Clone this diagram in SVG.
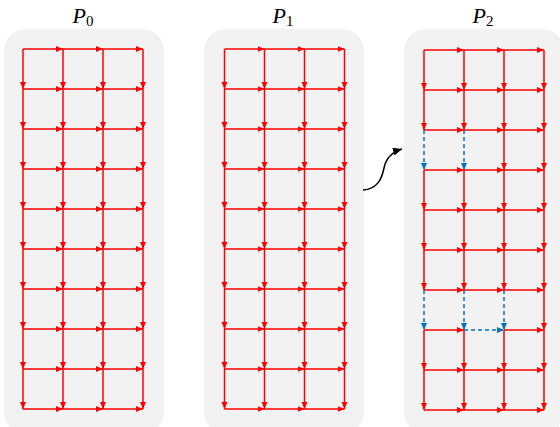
<svg xmlns="http://www.w3.org/2000/svg" width="560" height="427" viewBox="0 0 560 427">
<defs>
<style>
.panel{fill:#f2f2f2;stroke:none}
.r{fill:none;stroke:#ff0000;stroke-width:1.5;marker-mid:url(#ar);marker-end:url(#ar)}
.b{fill:none;stroke:#0070c0;stroke-width:1.5;stroke-dasharray:4 3;marker-end:url(#ab)}
.lbl{font-family:"Liberation Serif","DejaVu Serif",serif;font-size:22px;fill:#000}
.sub{font-size:15px;font-style:normal}
</style>
<marker id="ar" markerUnits="userSpaceOnUse" markerWidth="8" markerHeight="8" refX="7" refY="3" orient="auto"><path d="M0,0 L7,3 L0,6 z" fill="#ff0000"/></marker>
<marker id="ab" markerUnits="userSpaceOnUse" markerWidth="8" markerHeight="8" refX="7" refY="3" orient="auto"><path d="M0,0 L7,3 L0,6 z" fill="#0070c0"/></marker>
<marker id="ak" markerUnits="userSpaceOnUse" markerWidth="10" markerHeight="10" refX="9" refY="4" orient="auto"><path d="M0,0 L9,4 L0,8 z" fill="#000"/></marker>
</defs>

<g id="panel-P0">
<rect class="panel" x="4" y="29" width="160" height="405" rx="22"/>
<text class="lbl" x="83" y="23" text-anchor="middle"><tspan font-style="italic">P</tspan><tspan class="sub" dy="3">0</tspan></text>
</g>
<g id="panel-P1">
<rect class="panel" x="204" y="29" width="160" height="405" rx="22"/>
<text class="lbl" x="283" y="23" text-anchor="middle"><tspan font-style="italic">P</tspan><tspan class="sub" dy="3">1</tspan></text>
</g>
<g id="panel-P2">
<rect class="panel" x="404" y="29" width="160" height="405" rx="22"/>
<text class="lbl" x="483" y="23" text-anchor="middle"><tspan font-style="italic">P</tspan><tspan class="sub" dy="3">2</tspan></text>
</g>

<g id="connectors">
<g id="P0-edges">
<polyline class="r" points="23,49 63,49 103,49 143,49"/>
<polyline class="r" points="23,89 63,89 103,89 143,89"/>
<polyline class="r" points="23,129 63,129 103,129 143,129"/>
<polyline class="r" points="23,169 63,169 103,169 143,169"/>
<polyline class="r" points="23,209 63,209 103,209 143,209"/>
<polyline class="r" points="23,249 63,249 103,249 143,249"/>
<polyline class="r" points="23,289 63,289 103,289 143,289"/>
<polyline class="r" points="23,329 63,329 103,329 143,329"/>
<polyline class="r" points="23,369 63,369 103,369 143,369"/>
<polyline class="r" points="23,409 63,409 103,409 143,409"/>
<polyline class="r" points="23,49 23,89 23,129 23,169 23,209 23,249 23,289 23,329 23,369 23,409"/>
<polyline class="r" points="63,49 63,89 63,129 63,169 63,209 63,249 63,289 63,329 63,369 63,409"/>
<polyline class="r" points="103,49 103,89 103,129 103,169 103,209 103,249 103,289 103,329 103,369 103,409"/>
<polyline class="r" points="143,49 143,89 143,129 143,169 143,209 143,249 143,289 143,329 143,369 143,409"/>
</g>
<g id="P1-edges">
<polyline class="r" points="224.5,49 264.5,49 304.5,49 344.5,49"/>
<polyline class="r" points="224.5,89 264.5,89 304.5,89 344.5,89"/>
<polyline class="r" points="224.5,129 264.5,129 304.5,129 344.5,129"/>
<polyline class="r" points="224.5,169 264.5,169 304.5,169 344.5,169"/>
<polyline class="r" points="224.5,209 264.5,209 304.5,209 344.5,209"/>
<polyline class="r" points="224.5,249 264.5,249 304.5,249 344.5,249"/>
<polyline class="r" points="224.5,289 264.5,289 304.5,289 344.5,289"/>
<polyline class="r" points="224.5,329 264.5,329 304.5,329 344.5,329"/>
<polyline class="r" points="224.5,369 264.5,369 304.5,369 344.5,369"/>
<polyline class="r" points="224.5,409 264.5,409 304.5,409 344.5,409"/>
<polyline class="r" points="224.5,49 224.5,89 224.5,129 224.5,169 224.5,209 224.5,249 224.5,289 224.5,329 224.5,369 224.5,409"/>
<polyline class="r" points="264.5,49 264.5,89 264.5,129 264.5,169 264.5,209 264.5,249 264.5,289 264.5,329 264.5,369 264.5,409"/>
<polyline class="r" points="304.5,49 304.5,89 304.5,129 304.5,169 304.5,209 304.5,249 304.5,289 304.5,329 304.5,369 304.5,409"/>
<polyline class="r" points="344.5,49 344.5,89 344.5,129 344.5,169 344.5,209 344.5,249 344.5,289 344.5,329 344.5,369 344.5,409"/>
</g>
<g id="P2-edges">
<polyline class="r" points="424,50 464,50 504,50 544,50"/>
<polyline class="r" points="424,90 464,90 504,90 544,90"/>
<polyline class="r" points="424,130 464,130 504,130 544,130"/>
<polyline class="r" points="424,170 464,170 504,170 544,170"/>
<polyline class="r" points="424,210 464,210 504,210 544,210"/>
<polyline class="r" points="424,250 464,250 504,250 544,250"/>
<polyline class="r" points="424,290 464,290 504,290 544,290"/>
<polyline class="r" points="424,330 464,330"/>
<polyline class="r" points="504,330 544,330"/>
<polyline class="r" points="424,370 464,370 504,370 544,370"/>
<polyline class="r" points="424,410 464,410 504,410 544,410"/>
<polyline class="r" points="424,50 424,90 424,130"/>
<polyline class="r" points="424,170 424,210 424,250 424,290"/>
<polyline class="r" points="424,330 424,370 424,410"/>
<polyline class="r" points="464,50 464,90 464,130"/>
<polyline class="r" points="464,170 464,210 464,250 464,290"/>
<polyline class="r" points="464,330 464,370 464,410"/>
<polyline class="r" points="504,50 504,90 504,130 504,170 504,210 504,250 504,290"/>
<polyline class="r" points="504,330 504,370 504,410"/>
<polyline class="r" points="544,50 544,90 544,130 544,170 544,210 544,250 544,290 544,330 544,370 544,410"/>
<line class="b" x1="424" y1="130" x2="424" y2="170"/>
<line class="b" x1="464" y1="130" x2="464" y2="170"/>
<line class="b" x1="424" y1="290" x2="424" y2="330"/>
<line class="b" x1="464" y1="290" x2="464" y2="330"/>
<line class="b" x1="504" y1="290" x2="504" y2="330"/>
<line class="b" x1="464" y1="330" x2="504" y2="330"/>
</g>
<path id="transition-arrow" d="M363,190 C378,189 382,178 384,168 C386,158 392,152 402,149" fill="none" stroke="#000" stroke-width="1.5" marker-end="url(#ak)"/>
</g>
</svg>
